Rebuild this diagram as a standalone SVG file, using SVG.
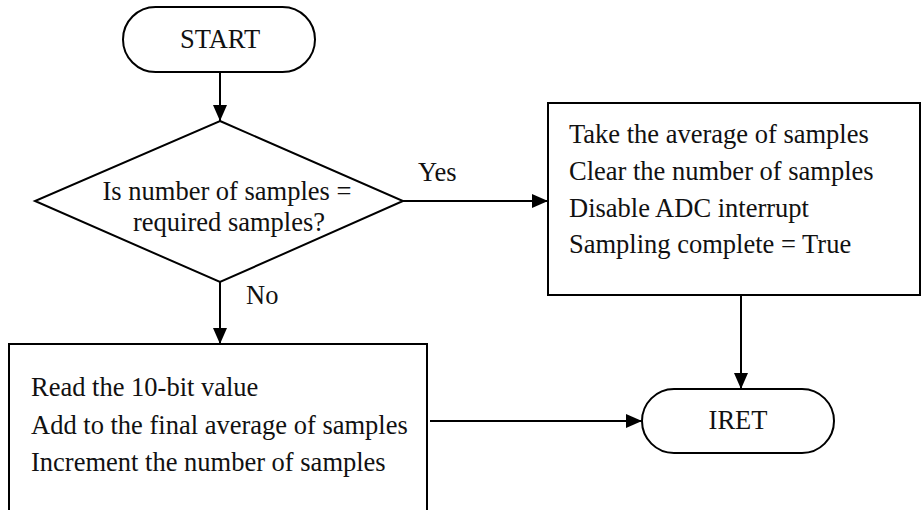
<svg xmlns="http://www.w3.org/2000/svg" width="921" height="510" viewBox="0 0 921 510">
  <style>
    .shape { fill: #ffffff; stroke: #000000; stroke-width: 2; }
    .wire { fill: none; stroke: #000000; stroke-width: 2; }
    text { font-family: "Liberation Serif", "Times New Roman", serif; font-size: 26.5px; fill: #111111; }
    .mid { text-anchor: middle; }
  </style>
  <defs>
    <marker id="arrow" viewBox="0 0 16 14" refX="16" refY="7" markerWidth="16" markerHeight="14" markerUnits="userSpaceOnUse" orient="auto">
      <path d="M0,0 L16,7 L0,14 Z" fill="#000000"/>
    </marker>
  </defs>
  <rect width="921" height="510" fill="#ffffff"/>

  <g id="connectors">
    <line class="wire" x1="220" y1="72" x2="220" y2="121" marker-end="url(#arrow)"/>
    <line class="wire" x1="403" y1="201" x2="548" y2="201" marker-end="url(#arrow)"/>
    <line class="wire" x1="220" y1="282" x2="220" y2="344" marker-end="url(#arrow)"/>
    <line class="wire" x1="741" y1="295" x2="741" y2="389" marker-end="url(#arrow)"/>
    <line class="wire" x1="430" y1="421" x2="642" y2="421" marker-end="url(#arrow)"/>
    <text x="418" y="181">Yes</text>
    <text x="246" y="304">No</text>
  </g>

  <g id="start">
    <rect class="shape" x="123" y="7" width="192" height="65" rx="32.5" ry="32.5"/>
    <text class="mid" x="220" y="48">START</text>
  </g>

  <g id="decision">
    <polygon class="shape" points="220,121 403,201 220,282 35,201"/>
    <text class="mid" x="227" y="200">Is number of samples =</text>
    <text class="mid" x="229" y="231">required samples?</text>
  </g>

  <g id="finish-sampling">
    <rect class="shape" x="548" y="103" width="372" height="192"/>
    <text x="569" y="143">Take the average of samples</text>
    <text x="569" y="180">Clear the number of samples</text>
    <text x="569" y="217">Disable ADC interrupt</text>
    <text x="569" y="253">Sampling complete = True</text>
  </g>

  <g id="accumulate">
    <rect class="shape" x="9" y="344" width="418" height="180"/>
    <text x="31" y="396">Read the 10-bit value</text>
    <text x="31" y="434">Add to the final average of samples</text>
    <text x="31" y="471">Increment the number of samples</text>
  </g>

  <g id="iret">
    <rect class="shape" x="642" y="389" width="192" height="64" rx="32" ry="32"/>
    <text class="mid" x="738" y="429">IRET</text>
  </g>
</svg>
